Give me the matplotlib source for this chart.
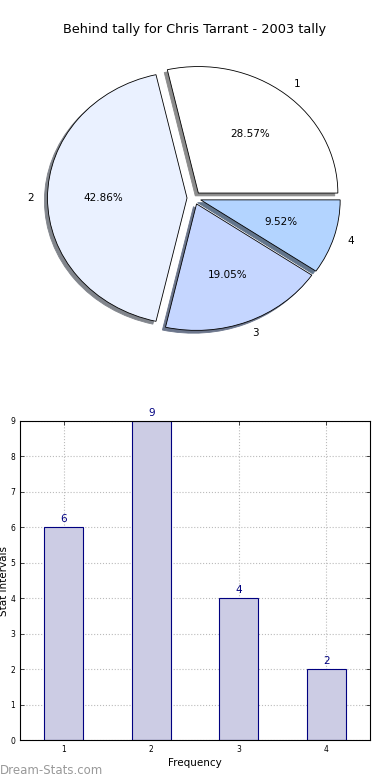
import matplotlib
matplotlib.use("Agg")
import matplotlib.pyplot as plt

categories = ["1", "2", "3", "4"]
values = [6, 9, 4, 2]
pie_colors = ["#ffffff", "#eaf1ff", "#c5d6ff", "#b3d4ff"]
title = "Behind tally for Chris Tarrant - 2003 tally"

fig = plt.figure(figsize=(3.9, 7.8), dpi=100)

# Pie (reference is slightly squashed vertically)
L = 150 / 139.5
ypx = 126.5
h_px = 2 * L * ypx
ax1 = fig.add_axes([(194 - 150) / 390, (780 - 198 - h_px / 2) / 780, 300 / 390, h_px / 780])
wedges, texts, autotexts = ax1.pie(
    values, labels=categories, colors=pie_colors, explode=[0.05] * 4,
    autopct="%1.2f%%",
    shadow=dict(ox=-0.016, oy=-0.016, shade=0.45, alpha=1.0),
    startangle=0,
    wedgeprops=dict(edgecolor="black", linewidth=0.6),
    textprops=dict(fontsize=7.5))
ax1.set_aspect("auto")
ax1.set_xlim(-L, L)
ax1.set_ylim(-L, L)
ax1.axis("off")
fig.text(0.5, 1 - 30 / 780, title, ha="center", va="center", fontsize=9.3)

# Bars
ax2 = fig.add_axes([20 / 390, 40 / 780, 350 / 390, 319 / 780])
x = list(range(1, len(values) + 1))
bars = ax2.bar(x, values, width=0.45, color="#ccccE4", edgecolor="#000080", linewidth=0.8, zorder=2)
for xi, v in zip(x, values):
    ax2.text(xi, v + 0.08, str(v), ha="center", va="bottom", color="#000080", fontsize=7.5)
ax2.set_xlim(0.5, 4.5)
ax2.set_ylim(0, 9)
ax2.set_xticks(x)
ax2.set_xticklabels(categories)
ax2.set_yticks(range(0, 10))
ax2.tick_params(labelsize=5.5, direction="in", top=True, right=True, length=3, width=0.5)
ax2.grid(True, linestyle=":", color="#bbbbbb", linewidth=0.8, zorder=0)
ax2.set_axisbelow(True)
for s in ax2.spines.values():
    s.set_linewidth(0.8)
ax2.set_xlabel("Frequency", fontsize=7.5, labelpad=3)
ax2.set_ylabel("Stat intervals", fontsize=7.5, labelpad=2)
ax2.yaxis.set_label_coords(-0.032, 0.5)

fig.text(0.0, 1 - 770 / 780, "Dream-Stats.com", ha="left", va="center", fontsize=8.5, color="#999999")

fig.savefig("out.png", dpi=100)
